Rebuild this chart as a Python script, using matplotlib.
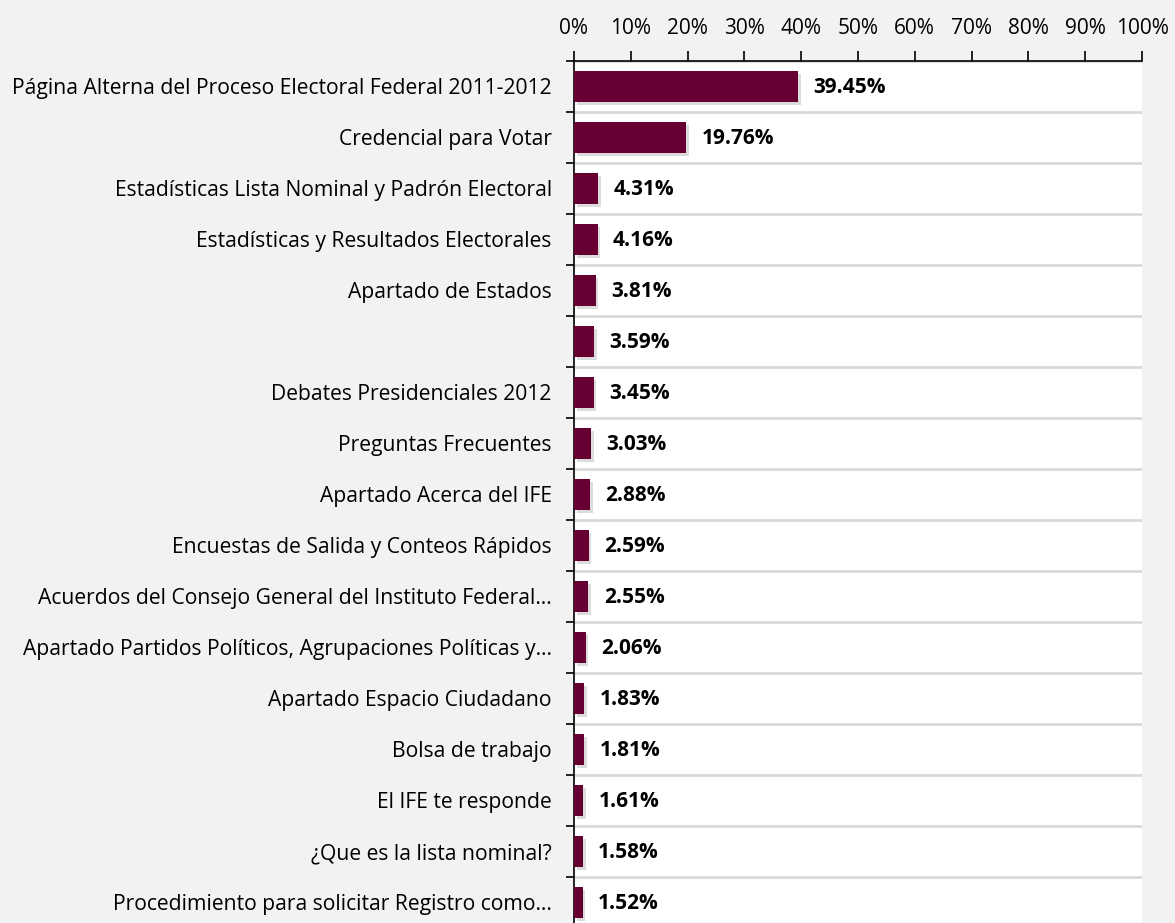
import matplotlib.pyplot as plt
import matplotlib.patheffects as pe
from matplotlib.ticker import FixedLocator, PercentFormatter

secciones = [
    "Página Alterna del Proceso Electoral Federal 2011-2012",
    "Credencial para Votar",
    "Estadísticas Lista Nominal y Padrón Electoral",
    "Estadísticas y Resultados Electorales",
    "Apartado de Estados",
    "",
    "Debates Presidenciales 2012",
    "Preguntas Frecuentes",
    "Apartado Acerca del IFE",
    "Encuestas de Salida y Conteos Rápidos",
    "Acuerdos del Consejo General del Instituto Federal…",
    "Apartado Partidos Políticos, Agrupaciones Políticas y…",
    "Apartado Espacio Ciudadano",
    "Bolsa de trabajo",
    "El IFE te responde",
    "¿Que es la lista nominal?",
    "Procedimiento para solicitar Registro como…",
]
porcentajes = [39.45, 19.76, 4.31, 4.16, 3.81, 3.59, 3.45, 3.03, 2.88,
               2.59, 2.55, 2.06, 1.83, 1.81, 1.61, 1.58, 1.52]
ticks_x = [0, 10, 20, 30, 40, 50, 60, 70, 80, 90, 100]

plt.rcParams['font.family'] = ['Open Sans', 'DejaVu Sans']

fig = plt.figure(figsize=(11.75, 9.23), dpi=100)
fig.patch.set_facecolor('#f2f2f2')
ax = fig.add_axes([574 / 1175, 1 - 928 / 923, 568 / 1175, 867 / 923])
ax.set_facecolor('white')

y = list(range(len(porcentajes)))
barras = ax.barh(y, porcentajes, height=0.6, color='#660033', zorder=3)
for b in barras:
    b.set_path_effects([pe.SimplePatchShadow(offset=(2, -2), shadow_rgbFace='#8c8c8c', alpha=0.3),
                        pe.Normal()])

for yi, v in zip(y, porcentajes):
    ax.annotate(f"{v:.2f}%", (v, yi), xytext=(11, -1), textcoords='offset points',
                va='center', ha='left', fontsize=15, fontweight='bold', color='black')

ax.set_xlim(0, 100)
ax.set_ylim(len(porcentajes) - 0.5, -0.5)
ax.xaxis.tick_top()
ax.set_xticks(ticks_x)
ax.xaxis.set_major_formatter(PercentFormatter(decimals=0))
ax.tick_params(axis='x', direction='out', length=7, width=1.2, labelsize=15, pad=9, colors='black')

ax.set_yticks(y)
ax.set_yticklabels(secciones, fontsize=15.25)
ax.tick_params(axis='y', which='major', length=0, pad=16)
ax.yaxis.set_minor_locator(FixedLocator([k + 0.5 for k in range(-1, len(porcentajes))]))
ax.tick_params(axis='y', which='minor', direction='out', length=6, width=1.2)
ax.grid(axis='y', which='minor', color='#d9d9d9', linewidth=2, zorder=0)

for s in ['right', 'bottom']:
    ax.spines[s].set_visible(False)
ax.spines['top'].set_linewidth(1.2)
ax.spines['left'].set_linewidth(1.2)

plt.savefig('out.png', dpi=100, facecolor=fig.get_facecolor())
